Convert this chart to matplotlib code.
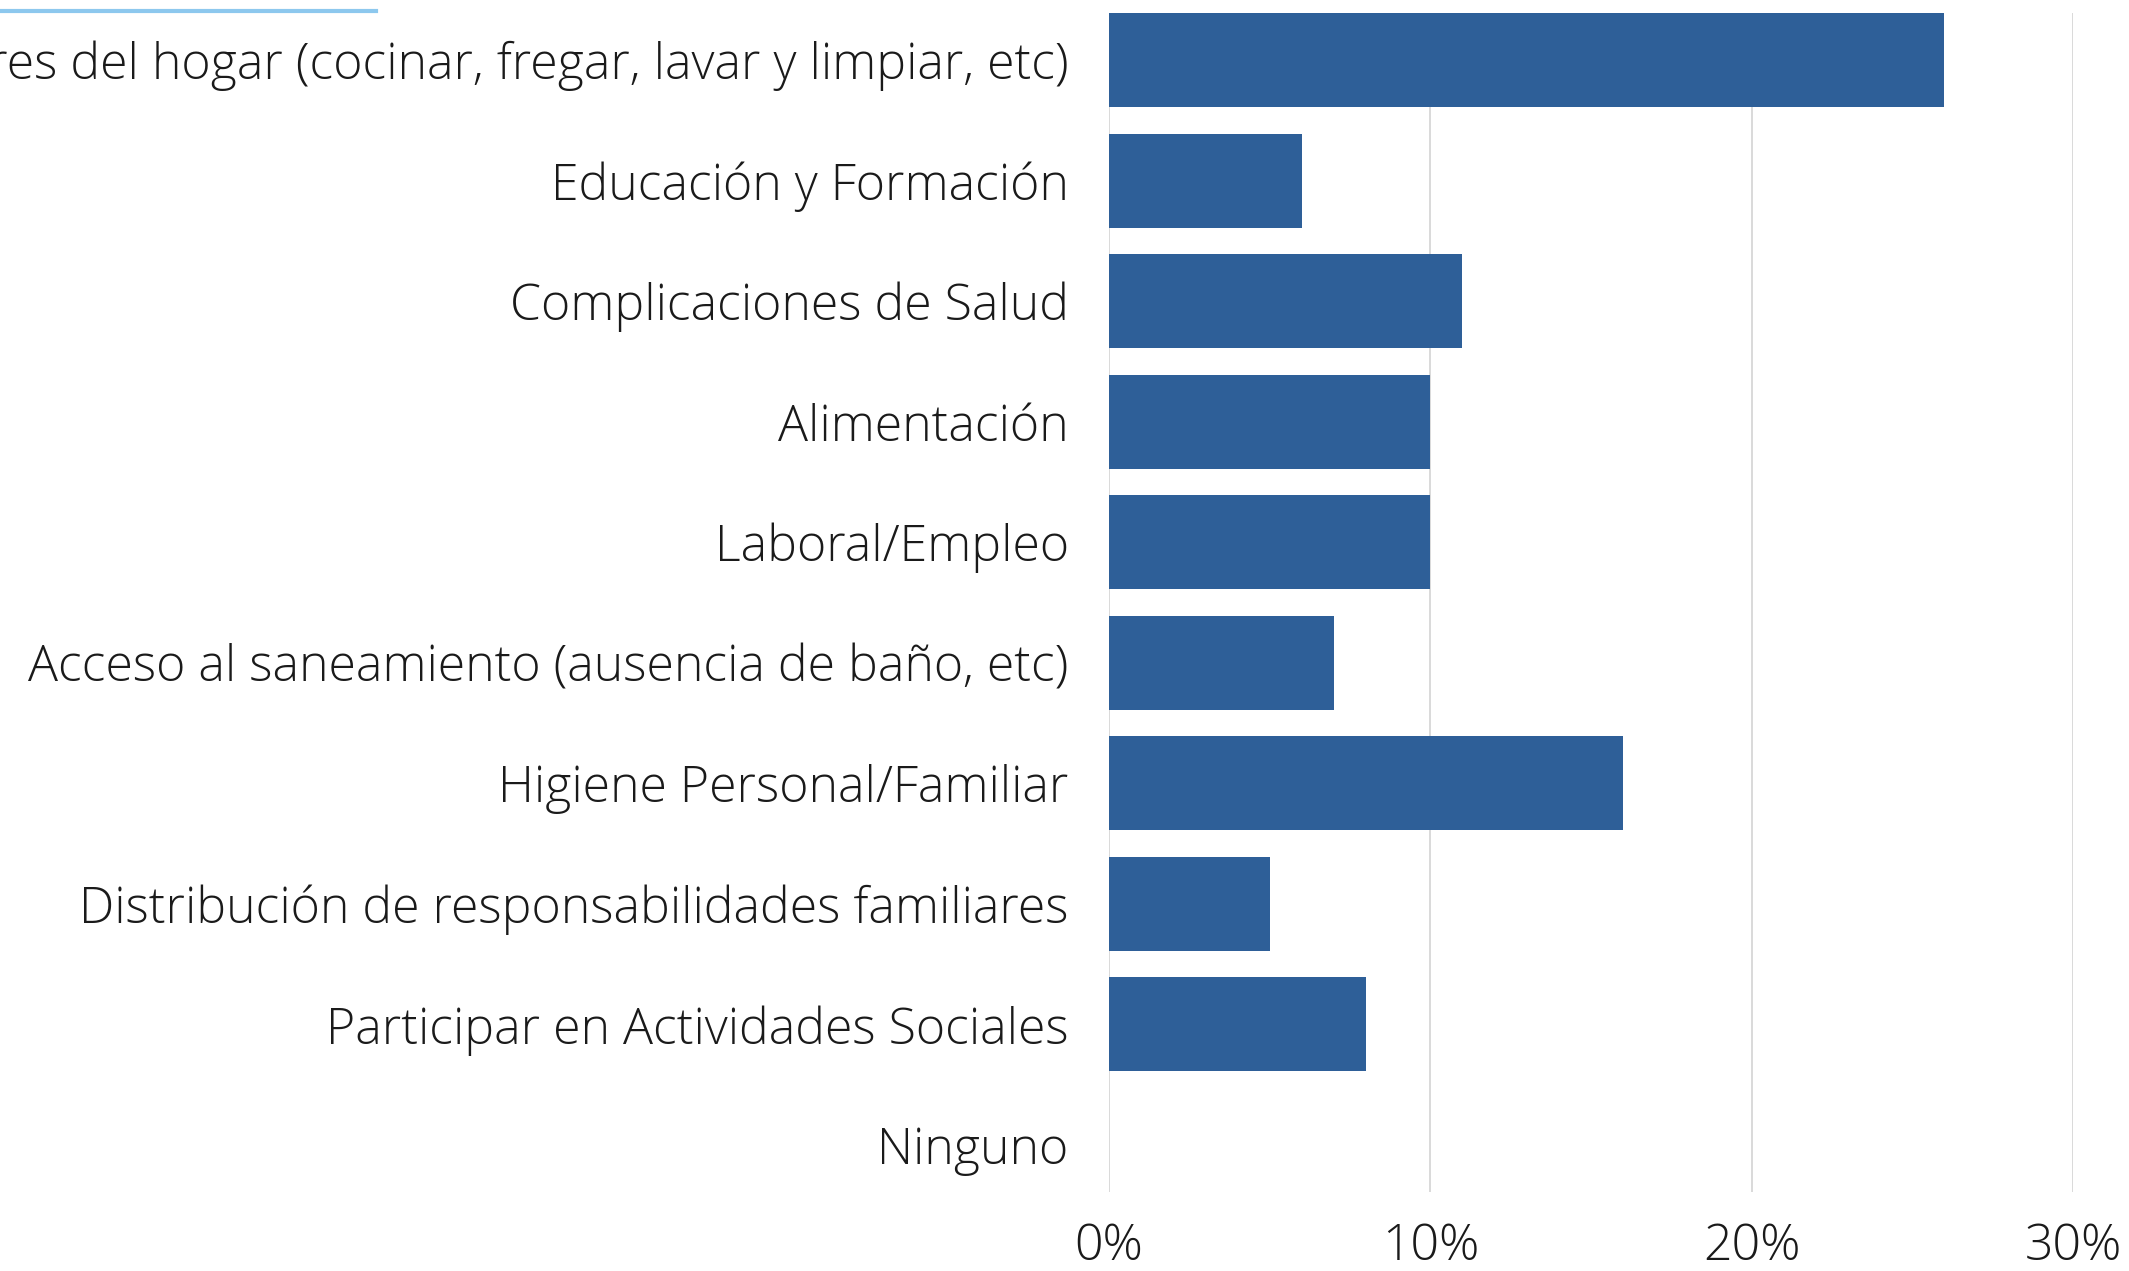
import matplotlib
matplotlib.use("Agg")
import matplotlib.pyplot as plt
from matplotlib.lines import Line2D
from matplotlib.ticker import FuncFormatter

categorias = [
    "Labores del hogar (cocinar, fregar, lavar y limpiar, etc)",
    "Educación y Formación",
    "Complicaciones de Salud",
    "Alimentación",
    "Laboral/Empleo",
    "Acceso al saneamiento (ausencia de baño, etc)",
    "Higiene Personal/Familiar",
    "Distribución de responsabilidades familiares",
    "Participar en Actividades Sociales",
    "Ninguno",
]
porcentajes = [26, 6, 11, 10, 10, 7, 16, 5, 8, 0]
ticks_x = [0, 10, 20, 30]

plt.rcParams['font.family'] = ['Open Sans', 'DejaVu Sans']
plt.rcParams['font.weight'] = 'light'

fig = plt.figure(figsize=(21.29, 12.71), dpi=100)
ax = fig.add_axes([0.5209, 0.0622, 0.4528, 0.9276])

pos = list(range(len(categorias)))
ax.barh(pos, porcentajes, height=0.78, color="#2E5F98", zorder=3)

ax.set_xlim(0, 30)
ax.set_ylim(9.39, -0.39)
ax.set_xticks(ticks_x)
ax.xaxis.set_major_formatter(FuncFormatter(lambda v, p: f"{v:.0f}%"))
ax.set_yticks(pos)
ax.set_yticklabels(categorias)

ax.grid(axis='x', color="#D9D9D9", linewidth=1.4, zorder=0)
ax.tick_params(axis='both', length=0, labelsize=36, labelcolor="#1A1A1A")
ax.tick_params(axis='y', pad=29)
ax.tick_params(axis='x', pad=22)
for s in ax.spines.values():
    s.set_visible(False)

# linea decorativa arriba a la izquierda
fig.add_artist(Line2D([0, 0.1766], [0.9913, 0.9913], transform=fig.transFigure,
                      color="#8DC8EE", linewidth=3))

fig.savefig("out.png", dpi=100)
